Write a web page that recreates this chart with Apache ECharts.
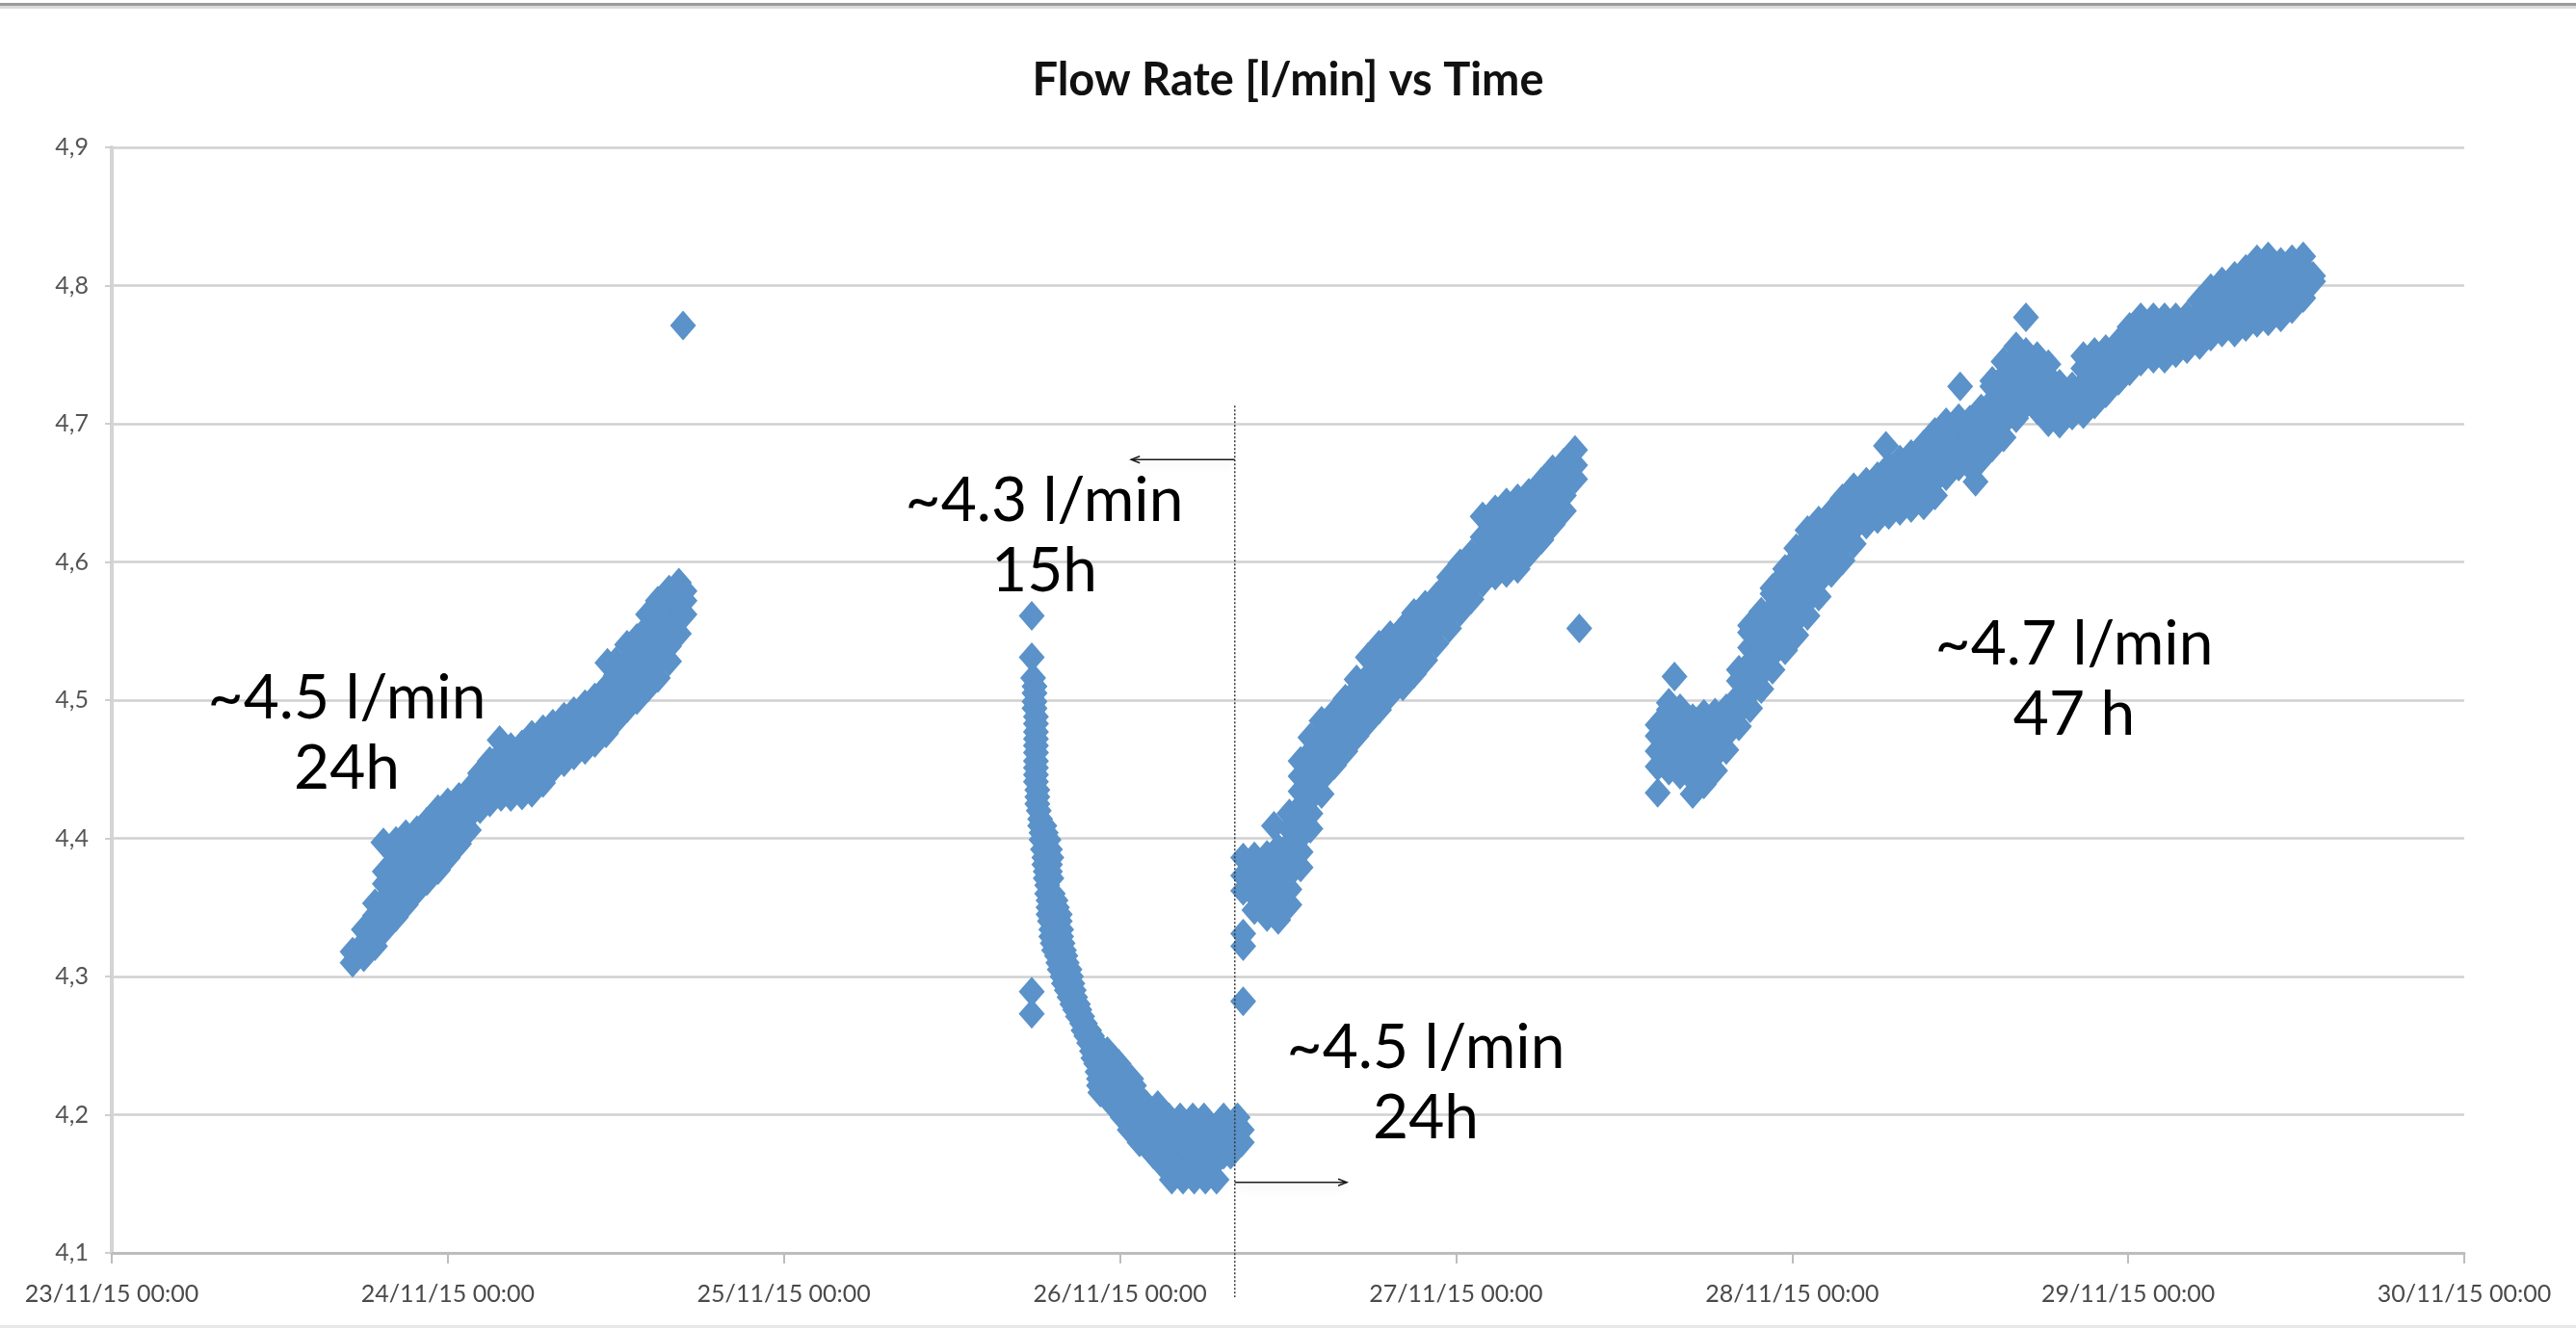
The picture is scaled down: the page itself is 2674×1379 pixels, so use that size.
<!DOCTYPE html>
<html>
<head>
<meta charset="utf-8">
<title>Flow Rate [l/min] vs Time</title>
<style>
  html, body { margin: 0; padding: 0; background: #ffffff; }
  #chart { width: 2674px; height: 1379px; }
</style>
<script src="https://cdn.jsdelivr.net/npm/echarts@6/dist/echarts.min.js"></script>
</head>
<body>
<div id="chart"></div>
<script>
// Time axis: hours since 23/11/15 00:00, one tick per day
const xTickLabels = ['23/11/15 00:00', '24/11/15 00:00', '25/11/15 00:00', '26/11/15 00:00',
                     '27/11/15 00:00', '28/11/15 00:00', '29/11/15 00:00', '30/11/15 00:00'];
const yTickLabels = ['4,1', '4,2', '4,3', '4,4', '4,5', '4,6', '4,7', '4,8', '4,9'];

// Run 1 (~4.5 l/min, 24h): [hour, readings in l/min]
const run1 = [
  [17.2, [4.310, 4.318]],
  [18.0, [4.314, 4.324, 4.334]],
  [18.8, [4.322, 4.333, 4.344, 4.353]],
  [19.4, [4.397]],
  [19.5, [4.334, 4.345, 4.356, 4.367, 4.376]],
  [20.3, [4.343, 4.354, 4.365, 4.376, 4.387, 4.398]],
  [21.0, [4.352, 4.363, 4.374, 4.385, 4.396, 4.403]],
  [21.8, [4.362, 4.373, 4.384, 4.395, 4.406]],
  [22.5, [4.369, 4.380, 4.391, 4.402, 4.412]],
  [23.3, [4.377, 4.388, 4.399, 4.410, 4.421]],
  [24.0, [4.386, 4.397, 4.408, 4.418, 4.426]],
  [24.8, [4.396, 4.406, 4.416, 4.426, 4.430]],
  [25.5, [4.406, 4.416, 4.426, 4.435]],
  [26.3, [4.421, 4.431, 4.441, 4.447]],
  [27.0, [4.426, 4.436, 4.446, 4.456]],
  [27.7, [4.471]],
  [27.8, [4.430, 4.440, 4.450, 4.461]],
  [28.5, [4.430, 4.441, 4.452, 4.463, 4.466]],
  [29.3, [4.431, 4.442, 4.453, 4.464, 4.468]],
  [30.0, [4.433, 4.444, 4.455, 4.466, 4.475]],
  [30.8, [4.440, 4.450, 4.461, 4.472, 4.479]],
  [31.5, [4.450, 4.461, 4.472, 4.483]],
  [32.3, [4.455, 4.466, 4.477, 4.488]],
  [33.0, [4.460, 4.471, 4.482, 4.492]],
  [33.8, [4.464, 4.475, 4.486, 4.497]],
  [34.5, [4.469, 4.480, 4.491, 4.502]],
  [35.3, [4.476, 4.487, 4.498, 4.509]],
  [35.4, [4.527]],
  [36.0, [4.485, 4.496, 4.507, 4.518, 4.528]],
  [36.8, [4.494, 4.505, 4.516, 4.527, 4.540]],
  [37.5, [4.500, 4.511, 4.522, 4.533, 4.545]],
  [38.3, [4.509, 4.520, 4.531, 4.542, 4.553, 4.562]],
  [39.0, [4.516, 4.527, 4.538, 4.549, 4.560, 4.572]],
  [39.8, [4.528, 4.539, 4.550, 4.561, 4.572, 4.580]],
  [40.5, [4.548, 4.559, 4.570, 4.580, 4.585]],
  [40.8, [4.771]],
  [40.9, [4.562, 4.572, 4.579]]
];

// Run 2 (~4.3 l/min, 15h): the drawdown is logged level by level: [reading, hours]
const run2 = [
  [4.561, [65.7]],
  [4.531, [65.7]],
  [4.516, [65.8]],
  [4.510, [65.9]],
  [4.505, [65.9]],
  [4.499, [65.9]],
  [4.494, [65.9]],
  [4.488, [66.0]],
  [4.483, [66.0]],
  [4.477, [66.0]],
  [4.472, [66.0]],
  [4.467, [66.0]],
  [4.462, [66.0]],
  [4.456, [66.0]],
  [4.451, [66.0]],
  [4.446, [66.0]],
  [4.441, [66.0]],
  [4.435, [66.1]],
  [4.430, [66.1]],
  [4.425, [66.1]],
  [4.420, [66.2]],
  [4.414, [66.3]],
  [4.409, [66.3, 66.6]],
  [4.404, [66.4, 66.7]],
  [4.399, [66.4, 66.9]],
  [4.392, [66.5, 67.0]],
  [4.386, [66.6, 67.1]],
  [4.381, [66.6, 67.0]],
  [4.376, [66.7, 67.0]],
  [4.371, [66.7, 67.1]],
  [4.366, [66.8]],
  [4.360, [66.8, 67.2]],
  [4.355, [66.9, 67.4]],
  [4.350, [66.9, 67.5]],
  [4.345, [66.9, 67.7]],
  [4.340, [67.0, 67.7]],
  [4.334, [67.1, 67.8]],
  [4.329, [67.1, 67.8]],
  [4.324, [67.2, 67.9]],
  [4.319, [67.3, 68.0]],
  [4.315, [67.5, 68.1]],
  [4.310, [67.6, 68.2]],
  [4.305, [67.7, 68.4]],
  [4.300, [67.9, 68.5]],
  [4.295, [68.0, 68.6]],
  [4.290, [68.2, 68.7]],
  [4.289, [65.7]],
  [4.285, [68.4, 68.8]],
  [4.280, [68.6, 69.0]],
  [4.276, [68.8, 69.1]],
  [4.273, [65.7]],
  [4.271, [69.0, 69.3]],
  [4.266, [69.3, 69.5]],
  [4.261, [69.4, 69.8]],
  [4.257, [69.6, 70.0]],
  [4.252, [69.8, 70.3]],
  [4.246, [70.0, 70.6, 71.1]],
  [4.241, [70.1, 70.8, 71.5]],
  [4.237, [70.3, 71.1, 71.9]],
  [4.231, [70.4, 71.2, 72.0]],
  [4.226, [70.5, 71.3, 72.1, 72.8]],
  [4.221, [70.5, 71.3, 72.2, 73.0]],
  [4.216, [70.6, 71.4, 72.2, 73.1]],
  [4.207, [71.5, 72.3, 73.1, 73.9, 74.7]],
  [4.198, [72.2, 73.0, 73.9, 74.7, 75.5, 76.3, 77.2, 78.0, 79.4, 80.4]],
  [4.189, [72.7, 73.5, 74.3, 75.2, 76.0, 76.8, 77.6, 78.5, 79.3, 80.1, 80.7]],
  [4.180, [73.4, 74.2, 75.0, 75.9, 76.7, 77.5, 78.4, 79.2, 80.0, 80.7]],
  [4.171, [74.4, 75.2, 76.1, 76.9, 77.7, 78.6, 79.4, 79.9]],
  [4.162, [75.2, 76.0, 76.9, 77.7, 78.5]],
  [4.153, [75.7, 76.5, 77.3, 78.1, 78.9]]
];

// Run 3 (~4.5 l/min, 24h): [hour, readings]
const run3 = [
  [80.8, [4.282, 4.322, 4.331, 4.362, 4.373, 4.386]],
  [81.6, [4.348, 4.359, 4.370, 4.381, 4.387]],
  [82.5, [4.343, 4.354, 4.365, 4.376, 4.388]],
  [83.0, [4.409]],
  [83.3, [4.341, 4.352, 4.363, 4.374, 4.385, 4.393]],
  [84.1, [4.352, 4.363, 4.374, 4.385, 4.396, 4.407, 4.418]],
  [84.9, [4.379, 4.390, 4.401, 4.412, 4.423, 4.434, 4.445, 4.456]],
  [85.6, [4.407, 4.418, 4.429, 4.440, 4.451, 4.462, 4.473]],
  [86.4, [4.432, 4.443, 4.454, 4.465, 4.476, 4.485]],
  [87.3, [4.453, 4.464, 4.475, 4.486, 4.491]],
  [88.1, [4.463, 4.474, 4.485, 4.496, 4.501]],
  [88.9, [4.474, 4.485, 4.496, 4.507, 4.515]],
  [89.7, [4.484, 4.495, 4.506, 4.517, 4.531]],
  [90.5, [4.493, 4.504, 4.515, 4.526, 4.537, 4.540]],
  [91.3, [4.504, 4.515, 4.526, 4.537, 4.547]],
  [92.2, [4.510, 4.521, 4.532, 4.543, 4.552]],
  [93.0, [4.519, 4.530, 4.541, 4.552, 4.563]],
  [93.8, [4.529, 4.540, 4.551, 4.562, 4.569]],
  [94.6, [4.541, 4.552, 4.563, 4.575]],
  [95.5, [4.552, 4.563, 4.574, 4.585, 4.589]],
  [96.3, [4.564, 4.575, 4.586, 4.597, 4.599]],
  [97.1, [4.573, 4.584, 4.595, 4.606]],
  [97.9, [4.585, 4.596, 4.607, 4.618, 4.633]],
  [98.8, [4.590, 4.601, 4.612, 4.623, 4.634, 4.638]],
  [99.6, [4.592, 4.603, 4.614, 4.625, 4.636, 4.643]],
  [100.4, [4.595, 4.606, 4.617, 4.628, 4.639, 4.646]],
  [101.2, [4.606, 4.617, 4.628, 4.639, 4.650]],
  [102.1, [4.616, 4.627, 4.638, 4.649, 4.658]],
  [102.9, [4.627, 4.638, 4.649, 4.660, 4.667]],
  [103.7, [4.637, 4.648, 4.659, 4.670, 4.672]],
  [104.5, [4.660, 4.670, 4.681]],
  [104.8, [4.552]]
];

// Run 4 (~4.7 l/min, 47 h): [hour, readings]
const run4 = [
  [110.4, [4.433, 4.452, 4.463, 4.474, 4.482]],
  [111.2, [4.449, 4.460, 4.471, 4.482, 4.493, 4.498]],
  [111.6, [4.517]],
  [112.0, [4.446, 4.457, 4.468, 4.479, 4.490, 4.494]],
  [112.9, [4.432, 4.443, 4.454, 4.465, 4.476, 4.487]],
  [113.7, [4.439, 4.450, 4.461, 4.472, 4.483, 4.490]],
  [114.5, [4.449, 4.460, 4.471, 4.482, 4.491]],
  [115.3, [4.464, 4.475, 4.486, 4.494]],
  [116.2, [4.481, 4.492, 4.503, 4.514, 4.522]],
  [117.0, [4.494, 4.505, 4.516, 4.527, 4.538, 4.549, 4.554]],
  [117.8, [4.508, 4.519, 4.530, 4.541, 4.552, 4.564]],
  [118.6, [4.522, 4.533, 4.544, 4.555, 4.566, 4.577, 4.581]],
  [119.5, [4.536, 4.547, 4.558, 4.569, 4.580, 4.591, 4.595]],
  [120.3, [4.547, 4.558, 4.569, 4.580, 4.591, 4.602, 4.610]],
  [121.1, [4.561, 4.572, 4.583, 4.594, 4.605, 4.616, 4.623]],
  [121.9, [4.575, 4.586, 4.597, 4.608, 4.619, 4.630]],
  [122.8, [4.592, 4.603, 4.614, 4.625, 4.636]],
  [123.6, [4.601, 4.612, 4.623, 4.634, 4.646]],
  [124.4, [4.613, 4.624, 4.635, 4.646, 4.654]],
  [125.3, [4.627, 4.638, 4.649, 4.658]],
  [126.1, [4.631, 4.642, 4.653, 4.662]],
  [126.7, [4.684]],
  [126.9, [4.634, 4.645, 4.656, 4.669]],
  [127.7, [4.637, 4.648, 4.659, 4.670, 4.674]],
  [128.5, [4.639, 4.650, 4.661, 4.672, 4.678]],
  [129.4, [4.641, 4.652, 4.663, 4.674, 4.685]],
  [130.2, [4.648, 4.659, 4.670, 4.681, 4.694]],
  [131.0, [4.662, 4.673, 4.684, 4.695, 4.701]],
  [131.9, [4.669, 4.680, 4.691, 4.704]],
  [132.0, [4.727]],
  [132.7, [4.669, 4.680, 4.691, 4.703]],
  [133.1, [4.658]],
  [133.5, [4.674, 4.685, 4.696, 4.707, 4.711]],
  [134.3, [4.683, 4.694, 4.705, 4.716, 4.727, 4.731]],
  [135.1, [4.690, 4.701, 4.712, 4.723, 4.734, 4.745]],
  [136.0, [4.704, 4.715, 4.726, 4.737, 4.748, 4.756]],
  [136.7, [4.714, 4.725, 4.736, 4.747, 4.752, 4.777]],
  [137.5, [4.710, 4.721, 4.732, 4.743, 4.749]],
  [138.3, [4.701, 4.712, 4.723, 4.734, 4.743]],
  [139.1, [4.700, 4.711, 4.722, 4.729]],
  [140.0, [4.706, 4.717, 4.727]],
  [140.8, [4.707, 4.718, 4.729, 4.740, 4.749]],
  [141.6, [4.714, 4.725, 4.736, 4.747, 4.752]],
  [142.4, [4.722, 4.733, 4.744, 4.754]],
  [143.3, [4.731, 4.742, 4.753, 4.759]],
  [144.1, [4.738, 4.749, 4.760, 4.770]],
  [144.9, [4.745, 4.756, 4.767, 4.777]],
  [145.8, [4.747, 4.758, 4.769, 4.777]],
  [146.6, [4.747, 4.758, 4.769, 4.777]],
  [147.4, [4.751, 4.762, 4.773, 4.777]],
  [148.2, [4.754, 4.765, 4.776, 4.778]],
  [149.1, [4.757, 4.768, 4.779, 4.789]],
  [149.9, [4.763, 4.774, 4.785, 4.798]],
  [150.7, [4.766, 4.777, 4.788, 4.799, 4.803]],
  [151.6, [4.766, 4.777, 4.788, 4.799, 4.807]],
  [152.4, [4.770, 4.781, 4.792, 4.803, 4.812]],
  [153.2, [4.773, 4.784, 4.795, 4.806, 4.819]],
  [154.0, [4.774, 4.785, 4.796, 4.807, 4.818, 4.821]],
  [154.9, [4.777, 4.788, 4.799, 4.810, 4.817]],
  [155.7, [4.783, 4.794, 4.805, 4.816, 4.819]],
  [156.5, [4.791, 4.802, 4.813, 4.821]],
  [157.2, [4.803, 4.807]]
];

// Pump change-over marker and the arrows that point back / forward from it
const changeoverHour = 80.2;
const markerSpan = [4.713, 4.068];
const arrowBack = { level: 4.674, toHour: 72.8 };
const arrowForward = { level: 4.151, toHour: 88.2 };

const annotations = [
  { text: '~4.5 l/min\n24h', x: 360, y: 762 },
  { text: '~4.3 l/min\n15h', x: 1084, y: 557 },
  { text: '~4.5 l/min\n24h', x: 1480, y: 1125 },
  { text: '~4.7 l/min\n47 h', x: 2153, y: 706 }
];

function byHour(rows) {
  const pts = [];
  rows.forEach(([h, vals]) => vals.forEach(v => pts.push([h, v])));
  return pts;
}
function byLevel(rows) {
  const pts = [];
  rows.forEach(([v, hours]) => hours.forEach(h => pts.push([h, v])));
  return pts;
}

const MARKER_BLUE = '#5a92c9';
const AXIS_FONT = 'Lato, "Open Sans", sans-serif';

function runSeries(name, data) {
  return {
    name: name,
    type: 'scatter',
    data: data,
    symbol: 'diamond',
    symbolSize: [27, 31],
    itemStyle: { color: MARKER_BLUE, opacity: 1 },
    emphasis: { disabled: true },
    silent: true,
    z: 3
  };
}

const chart = echarts.init(document.getElementById('chart'), null, { renderer: 'canvas' });

chart.setOption({
  animation: false,
  backgroundColor: '#ffffff',
  title: {
    text: 'Flow Rate [l/min] vs Time',
    left: 'center',
    top: 53,
    textStyle: {
      fontFamily: AXIS_FONT,
      fontWeight: 'bold',
      fontSize: 47,
      lineHeight: 52,
      color: '#111111'
    }
  },
  grid: { left: 116, right: 116, top: 153, bottom: 78, containLabel: false },
  xAxis: {
    type: 'value',
    min: 0,
    max: 168,
    interval: 24,
    axisLine: { show: true, onZero: false, lineStyle: { color: '#bdbdbd', width: 3 } },
    axisTick: { show: true, length: 11, lineStyle: { color: '#bdbdbd', width: 2 } },
    splitLine: { show: false },
    axisLabel: {
      margin: 30,
      fontFamily: AXIS_FONT,
      fontSize: 25,
      color: '#4a4a4a',
      showMinLabel: true,
      showMaxLabel: true,
      hideOverlap: false,
      formatter: v => xTickLabels[Math.round(v / 24)]
    }
  },
  yAxis: {
    type: 'value',
    min: 4.1,
    max: 4.9,
    interval: 0.1,
    axisLine: { show: true, lineStyle: { color: '#d4d4d4', width: 4 } },
    axisTick: { show: true, length: 7, lineStyle: { color: '#cfcfcf', width: 2 } },
    splitLine: { show: true, lineStyle: { color: '#d0d0d0', width: 2.5 } },
    axisLabel: {
      margin: 24,
      fontFamily: AXIS_FONT,
      fontSize: 25,
      color: '#555555',
      showMinLabel: true,
      showMaxLabel: true,
      formatter: v => yTickLabels[Math.round((v - 4.1) * 10)]
    }
  },
  series: [
    runSeries('run1', byHour(run1)),
    runSeries('run2', byLevel(run2)),
    runSeries('run3', byHour(run3)),
    runSeries('run4', byHour(run4))
  ]
});

// Annotation layer, placed through the axes' own scales
const toPx = (h, v) => chart.convertToPixel({ gridIndex: 0 }, [h, v]);
const lineTop = toPx(changeoverHour, markerSpan[0]);
const lineBottom = toPx(changeoverHour, markerSpan[1]);
const backStart = toPx(changeoverHour, arrowBack.level);
const backEnd = toPx(arrowBack.toHour, arrowBack.level);
const fwdStart = toPx(changeoverHour, arrowForward.level);
const fwdEnd = toPx(arrowForward.toHour, arrowForward.level);

function arrow(start, end) {
  const dir = Math.sign(end[0] - start[0]);
  const headLen = 9, headHalf = 3.5;
  const shadow = { shadowColor: 'rgba(0,0,0,0.12)', shadowBlur: 8, shadowOffsetY: 6 };
  return [
    {
      type: 'line',
      shape: { x1: start[0], y1: start[1], x2: end[0], y2: end[1] },
      style: Object.assign({ stroke: '#1a1a1a', lineWidth: 1.5 }, shadow),
      z: 10
    },
    {
      type: 'polyline',
      shape: {
        points: [
          [end[0] - dir * headLen, end[1] - headHalf],
          [end[0], end[1]],
          [end[0] - dir * headLen, end[1] + headHalf]
        ]
      },
      style: { stroke: '#1a1a1a', lineWidth: 1.5, fill: null },
      z: 10
    }
  ];
}

const graphics = [
  // frame edges
  { type: 'rect', shape: { x: 0, y: 3, width: 2674, height: 3 }, style: { fill: '#9b9b9b' }, z: 1 },
  { type: 'rect', shape: { x: 0, y: 6, width: 2674, height: 3 }, style: { fill: '#dadada' }, z: 1 },
  { type: 'rect', shape: { x: 0, y: 1376, width: 2674, height: 3 }, style: { fill: '#e8e8e8' }, z: 1 },
  // change-over marker
  {
    type: 'line',
    shape: { x1: lineTop[0], y1: lineTop[1], x2: lineBottom[0], y2: lineBottom[1] },
    style: { stroke: '#3a3a3a', lineWidth: 1.5, lineDash: [2, 2] },
    z: 9
  }
].concat(arrow(backStart, backEnd), arrow(fwdStart, fwdEnd));

annotations.forEach(a => {
  graphics.push({
    type: 'text',
    x: a.x,
    y: a.y,
    style: {
      text: a.text,
      fontFamily: 'Lato, "Open Sans", sans-serif',
      fontSize: 64,
      lineHeight: 73,
      fill: '#000000',
      align: 'center',
      verticalAlign: 'middle'
    },
    z: 20
  });
});

chart.setOption({ graphic: graphics });
</script>
</body>
</html>
